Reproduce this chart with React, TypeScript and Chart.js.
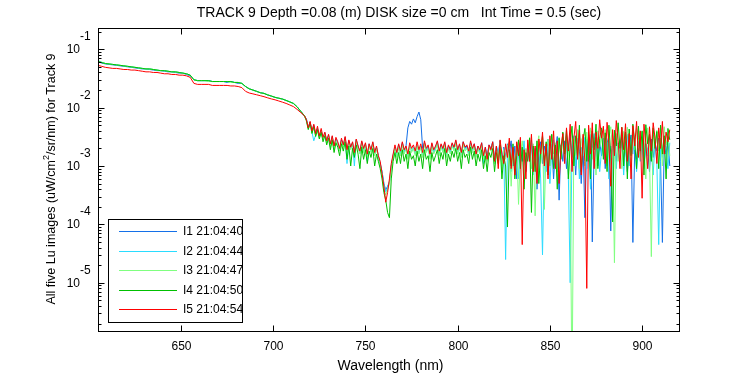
import React, { useEffect, useRef } from "react";
import { Chart, registerables } from "chart.js";

Chart.register(...registerables);

// ---------------- data ----------------
const WAVELENGTHS = [
  605, 607, 609, 611, 613, 615, 617, 619, 621, 623,
  625, 627, 629, 631, 633, 635, 637, 639, 641, 643,
  645, 647, 649, 651, 653, 655, 657, 659, 661, 663,
  665, 667, 669, 671, 673, 675, 677, 679, 681, 683,
  685, 687, 689, 691, 693, 695, 697, 699, 701, 703,
  705, 707, 709, 711, 713, 715, 717,
  718, 719, 720, 721, 722, 723, 724, 725, 726, 727,
  728, 729, 730, 731, 732, 733, 734, 735, 736, 737,
  738, 739, 740, 741, 742, 743, 744, 745, 746, 747,
  748, 749, 750, 751, 752, 753, 754, 755, 756, 757,
  758, 759, 760, 761, 762, 763, 764, 765, 766, 767,
  768, 769, 770, 771, 772, 773, 774, 775, 776, 777,
  778, 779, 780, 781, 782, 783, 784, 785, 786, 787,
  788, 789, 790, 791, 792, 793, 794, 795, 796, 797,
  798, 799, 800, 801, 802, 803, 804, 805, 806, 807,
  808, 809, 810, 811, 812, 813, 814, 815, 816, 817,
  818, 819, 820, 821, 822, 823, 824, 825, 826, 827,
  828, 829, 830, 831, 832, 833, 834, 835, 836, 837,
  838, 839, 840, 841, 842, 843, 844, 845, 846, 847,
  848, 849, 850, 851, 852, 853, 854, 855, 856, 857,
  858, 859, 860, 861, 862, 863, 864, 865, 866, 867,
  868, 869, 870, 871, 872, 873, 874, 875, 876, 877,
  878, 879, 880, 881, 882, 883, 884, 885, 886, 887,
  888, 889, 890, 891, 892, 893, 894, 895, 896, 897,
  898, 899, 900, 901, 902, 903, 904, 905, 906, 907,
  908, 909, 910, 911, 912, 913, 914, 915,
];

const I1 = [
  0.061, 0.058, 0.056, 0.055, 0.054, 0.053, 0.052, 0.051, 0.050, 0.049,
  0.048, 0.047, 0.046, 0.046, 0.045, 0.044, 0.043, 0.043, 0.042, 0.041,
  0.041, 0.040, 0.039, 0.039, 0.037, 0.035, 0.030, 0.029, 0.029, 0.029,
  0.029, 0.028, 0.028, 0.028, 0.028, 0.027, 0.028, 0.027, 0.026, 0.026,
  0.023, 0.021, 0.020, 0.019, 0.018, 0.0176, 0.0165, 0.0157, 0.015, 0.0145,
  0.0141, 0.0132, 0.0126, 0.0117, 0.0102, 0.0086, 0.0071,
  0.0064, 0.0045, 0.0057, 0.0039, 0.0050, 0.0035, 0.0044, 0.0032, 0.0041, 0.0029,
  0.0037, 0.0026, 0.0034, 0.0023, 0.0032, 0.0021, 0.0029, 0.0025, 0.0019, 0.0028,
  0.0022, 0.0031, 0.0018, 0.0027, 0.0021, 0.0025, 0.0016, 0.0028, 0.0022, 0.0017,
  0.0026, 0.0019, 0.0024, 0.0015, 0.0024, 0.0018, 0.0025, 0.0016, 0.0021, 0.0015,
  0.0011, 0.0008, 0.0005, 0.00039, 0.00045, 0.00053, 0.0010, 0.0015, 0.0021, 0.0016,
  0.0023, 0.0017, 0.0025, 0.0018, 0.0022, 0.0045, 0.0058, 0.0052, 0.0064, 0.0055,
  0.0070, 0.0084, 0.0062, 0.0020, 0.0025, 0.0018, 0.0022, 0.0015, 0.0024, 0.0017,
  0.0021, 0.0026, 0.0017, 0.0023, 0.0019, 0.0025, 0.0016, 0.0022, 0.0018, 0.0024,
  0.0020, 0.0027, 0.0018, 0.0023, 0.0016, 0.0026, 0.0020, 0.0022, 0.0017, 0.0025,
  0.0019, 0.0024, 0.0016, 0.0022, 0.0018, 0.0025, 0.0014, 0.0021, 0.0015, 0.0023,
  0.0020, 0.0026, 0.0013, 0.0022, 0.0016, 0.0027, 0.0011, 0.0021, 0.0014, 0.0024,
  0.0017, 0.0027, 0.0010, 0.0022, 0.0006, 0.0019, 0.0025, 0.0012, 0.0021, 0.0008,
  0.0023, 0.0013, 0.0028, 0.0009, 0.0020, 0.0004, 0.0017, 0.0026, 0.0011, 0.0022,
  0.0015, 0.0029, 0.0010, 0.0024, 0.0006, 0.0019, 0.0032, 0.00026, 0.0023, 0.0012,
  0.0027, 0.0009, 0.0021, 0.0034, 0.0014, 0.0025, 0.0007, 0.0030, 0.0018, 0.0005,
  0.0022, 0.00013, 0.0029, 0.0012, 0.0035, 0.00005, 0.0020, 0.0031, 0.0010, 0.0026,
  0.0015, 0.0028, 0.0009, 0.0024, 0.0033, 0.000077, 0.0019, 0.0030, 0.0012, 0.0025,
  0.0017, 0.0031, 0.0011, 0.0026, 0.0008, 0.0022, 0.0034, 0.000049, 0.0020, 0.0013,
  0.0027, 0.0016, 0.0032, 0.0010, 0.0024, 0.0019, 0.0008, 0.0029, 0.0014, 0.0025,
  0.0018, 0.0030, 0.0012, 0.000049, 0.0023, 0.0016, 0.0028, 0.0010,
];

const I2 = [
  0.064, 0.060, 0.057, 0.056, 0.055, 0.054, 0.053, 0.052, 0.051, 0.050,
  0.049, 0.048, 0.047, 0.046, 0.046, 0.045, 0.044, 0.043, 0.043, 0.042,
  0.041, 0.041, 0.040, 0.039, 0.038, 0.036, 0.030, 0.029, 0.029, 0.029,
  0.029, 0.028, 0.028, 0.028, 0.028, 0.028, 0.028, 0.027, 0.027, 0.026,
  0.023, 0.021, 0.020, 0.019, 0.018, 0.0175, 0.0165, 0.0158, 0.015, 0.0145,
  0.014, 0.0133, 0.0125, 0.0118, 0.0103, 0.0086, 0.0072,
  0.0061, 0.0047, 0.0055, 0.0038, 0.0027, 0.0034, 0.0043, 0.0031, 0.0040, 0.0028,
  0.0036, 0.0026, 0.0033, 0.0022, 0.0031, 0.0020, 0.0028, 0.0024, 0.0019, 0.0027,
  0.0022, 0.0030, 0.0011, 0.0026, 0.0020, 0.0025, 0.0010, 0.0028, 0.0021, 0.0017,
  0.0025, 0.0018, 0.0024, 0.0012, 0.0023, 0.0018, 0.0025, 0.0016, 0.0021, 0.0014,
  0.0011, 0.0008, 0.0005, 0.00036, 0.00042, 0.00055, 0.0010, 0.0015, 0.0021, 0.0015,
  0.0022, 0.0016, 0.0024, 0.0017, 0.0021, 0.0014, 0.0023, 0.0018, 0.0021, 0.0016,
  0.0023, 0.0017, 0.0022, 0.0015, 0.0025, 0.0018, 0.0021, 0.0014, 0.0023, 0.0017,
  0.0020, 0.0025, 0.0016, 0.0022, 0.0018, 0.0024, 0.0015, 0.0021, 0.0017, 0.0023,
  0.0019, 0.0026, 0.0017, 0.0022, 0.0015, 0.0025, 0.0019, 0.0021, 0.0016, 0.0024,
  0.0018, 0.0023, 0.0015, 0.0021, 0.0017, 0.0024, 0.0011, 0.0020, 0.0013, 0.0022,
  0.0019, 0.0025, 0.0012, 0.0021, 0.0015, 0.0026, 0.0010, 0.0020, 0.000025, 0.0018,
  0.0024, 0.0008, 0.0017, 0.0011, 0.0025, 0.0006, 0.0020, 0.0014, 0.0027, 0.0009,
  0.0021, 0.0012, 0.0026, 0.0007, 0.0018, 0.0010, 0.0023, 0.0006, 0.00003, 0.0015,
  0.0008, 0.0022, 0.0005, 0.0017, 0.0028, 0.0011, 0.0024, 0.0009, 0.0019, 0.0030,
  0.0013, 0.0026, 0.0007, 0.00001, 0.0018, 0.0033, 0.0010, 0.0024, 0.0006, 0.0021,
  0.0015, 0.0031, 0.0009, 0.0025, 0.0004, 0.0020, 0.0036, 0.0012, 0.0027, 0.0008,
  0.0018, 0.0030, 0.0011, 0.0026, 0.0006, 0.0022, 0.0014, 0.0033, 0.0009, 0.0024,
  0.0013, 0.0028, 0.0007, 0.0021, 0.0035, 0.0010, 0.0025, 0.0016, 0.0030, 0.0008,
  0.0020, 0.0012, 0.0027, 0.0009, 0.0023, 0.0015, 0.0031, 0.0018, 0.0007, 0.0026,
  0.0011, 0.000045, 0.0024, 0.0014, 0.0029, 0.0019, 0.0009, 0.0025,
];

const I3 = [
  0.062, 0.060, 0.057, 0.056, 0.055, 0.054, 0.053, 0.052, 0.051, 0.050,
  0.049, 0.048, 0.047, 0.046, 0.046, 0.045, 0.044, 0.043, 0.043, 0.042,
  0.041, 0.041, 0.040, 0.039, 0.038, 0.036, 0.030, 0.029, 0.029, 0.029,
  0.028, 0.028, 0.028, 0.028, 0.028, 0.028, 0.027, 0.027, 0.027, 0.026,
  0.023, 0.021, 0.020, 0.019, 0.018, 0.0175, 0.0166, 0.0158, 0.015, 0.0145,
  0.014, 0.0133, 0.0125, 0.0118, 0.0103, 0.0086, 0.0072,
  0.0058, 0.0043, 0.0053, 0.0037, 0.0046, 0.0033, 0.0041, 0.0030, 0.0039, 0.0028,
  0.0035, 0.0025, 0.0032, 0.0021, 0.0030, 0.0019, 0.0027, 0.0023, 0.0018, 0.0026,
  0.0021, 0.0029, 0.0016, 0.0025, 0.0019, 0.0024, 0.0015, 0.0027, 0.0020, 0.0016,
  0.0024, 0.0017, 0.0023, 0.0014, 0.0022, 0.0017, 0.0024, 0.0015, 0.0020, 0.0013,
  0.0010, 0.0007, 0.0004, 0.00032, 0.00039, 0.0005, 0.0009, 0.0014, 0.0020, 0.0014,
  0.0021, 0.0015, 0.0023, 0.0016, 0.0020, 0.0013, 0.0022, 0.0017, 0.0020, 0.0015,
  0.0022, 0.0016, 0.0021, 0.0014, 0.0024, 0.0017, 0.0020, 0.0013, 0.0022, 0.0016,
  0.0019, 0.0024, 0.0015, 0.0021, 0.0017, 0.0023, 0.0014, 0.0020, 0.0016, 0.0022,
  0.0018, 0.0025, 0.0016, 0.0021, 0.0014, 0.0024, 0.0018, 0.0020, 0.0015, 0.0023,
  0.0017, 0.0022, 0.0014, 0.0020, 0.0016, 0.0023, 0.0013, 0.0019, 0.0012, 0.0021,
  0.0018, 0.0024, 0.0011, 0.0020, 0.0014, 0.0025, 0.0009, 0.0019, 0.0013, 0.0022,
  0.0026, 0.00045, 0.0018, 0.0010, 0.0023, 0.00022, 0.0016, 0.0027, 0.0012, 0.0020,
  0.0015, 0.0031, 0.0009, 0.0024, 0.00014, 0.0020, 0.0033, 0.0011, 0.0026, 0.00018,
  0.0019, 0.0029, 0.0010, 0.0034, 0.0016, 0.0025, 0.0008, 0.0031, 0.0014, 0.0037,
  0.0012, 0.0035, 0.0020, 0.0008, 0.0000001, 0.0030, 0.0015, 0.0042, 0.0009, 0.0027,
  0.0033, 0.0010, 0.0038, 0.0018, 0.0045, 0.0013, 0.0029, 0.0007, 0.0040, 0.0021,
  0.0034, 0.0015, 0.0042, 0.0010, 0.0030, 0.0047, 0.0019, 0.000022, 0.0036, 0.0012,
  0.0028, 0.0009, 0.0039, 0.0017, 0.0046, 0.0024, 0.0011, 0.0035, 0.0019, 0.0044,
  0.0031, 0.0013, 0.0038, 0.0022, 0.0006, 0.0045, 0.0016, 0.000028, 0.0034, 0.0024,
  0.0041, 0.0018, 0.0030, 0.0010, 0.0047, 0.0023, 0.0036, 0.0015,
];

const I4 = [
  0.062, 0.059, 0.057, 0.056, 0.055, 0.054, 0.053, 0.052, 0.051, 0.050,
  0.049, 0.048, 0.047, 0.046, 0.046, 0.045, 0.044, 0.043, 0.043, 0.042,
  0.041, 0.041, 0.040, 0.039, 0.038, 0.036, 0.030, 0.029, 0.029, 0.029,
  0.029, 0.028, 0.028, 0.028, 0.028, 0.028, 0.028, 0.027, 0.027, 0.026,
  0.023, 0.021, 0.020, 0.019, 0.018, 0.0175, 0.0165, 0.0158, 0.015, 0.0145,
  0.014, 0.0133, 0.0125, 0.0118, 0.0103, 0.0086, 0.0072,
  0.0060, 0.0042, 0.0055, 0.0036, 0.0047, 0.0032, 0.0042, 0.0029, 0.0038, 0.0026,
  0.0033, 0.0023, 0.0030, 0.0019, 0.0028, 0.0017, 0.0025, 0.0021, 0.0015, 0.0024,
  0.0018, 0.0026, 0.0013, 0.0022, 0.0010, 0.0020, 0.0014, 0.0023, 0.0016, 0.0009,
  0.0021, 0.0013, 0.0019, 0.0011, 0.0018, 0.0014, 0.0020, 0.0010, 0.0016, 0.0012,
  0.0009, 0.0006, 0.00035, 0.00026, 0.00016, 0.00013, 0.0006, 0.0012, 0.0017, 0.0011,
  0.0017, 0.0011, 0.0019, 0.0012, 0.0016, 0.0009, 0.0018, 0.0013, 0.0015, 0.0010,
  0.0018, 0.0012, 0.0016, 0.0009, 0.0019, 0.0013, 0.0015, 0.0008, 0.0017, 0.0012,
  0.0015, 0.0019, 0.0011, 0.0017, 0.0013, 0.0020, 0.0010, 0.0016, 0.0012, 0.0018,
  0.0014, 0.0020, 0.0012, 0.0017, 0.0009, 0.0019, 0.0014, 0.0016, 0.0011, 0.0021,
  0.0013, 0.0018, 0.0010, 0.0016, 0.0012, 0.0019, 0.0009, 0.0015, 0.0008, 0.0017,
  0.0014, 0.0020, 0.0008, 0.0017, 0.0011, 0.0023, 0.0006, 0.0015, 0.0010, 0.00009,
  0.0019, 0.0010, 0.0024, 0.0006, 0.0015, 0.0028, 0.0009, 0.0021, 0.0004, 0.0017,
  0.0012, 0.0030, 0.00016, 0.0022, 0.0008, 0.0027, 0.0005, 0.0018, 0.0033, 0.0011,
  0.0026, 0.0007, 0.0019, 0.0035, 0.0009, 0.0023, 0.0004, 0.0030, 0.0013, 0.0038,
  0.0016, 0.0042, 0.0006, 0.0025, 0.0048, 0.0010, 0.0033, 0.0015, 0.0050, 0.0008,
  0.0028, 0.0044, 0.0012, 0.0034, 0.0006, 0.0040, 0.0019, 0.0052, 0.0009, 0.0030,
  0.0045, 0.0013, 0.0037, 0.0008, 0.0050, 0.0016, 0.00011, 0.0041, 0.0022, 0.0055,
  0.0020, 0.0046, 0.0010, 0.0038, 0.0006, 0.0043, 0.0015, 0.0052, 0.0026, 0.0009,
  0.0048, 0.0018, 0.0040, 0.0007, 0.0051, 0.0024, 0.0035, 0.0012, 0.0045, 0.0020,
  0.0039, 0.0009, 0.0050, 0.0016, 0.0033, 0.0006, 0.0044, 0.0028,
];

const I5 = [
  0.053, 0.051, 0.049, 0.048, 0.047, 0.047, 0.046, 0.045, 0.045, 0.044,
  0.044, 0.043, 0.042, 0.041, 0.041, 0.040, 0.040, 0.039, 0.038, 0.038,
  0.037, 0.037, 0.036, 0.036, 0.035, 0.033, 0.026, 0.025, 0.025, 0.025,
  0.025, 0.024, 0.024, 0.024, 0.024, 0.024, 0.0235, 0.0235, 0.023, 0.022,
  0.019, 0.0178, 0.0172, 0.0166, 0.016, 0.0154, 0.0147, 0.0141, 0.0136, 0.013,
  0.0124, 0.0118, 0.0111, 0.0104, 0.0093, 0.0082, 0.0072,
  0.0062, 0.0045, 0.0058, 0.0040, 0.0052, 0.0036, 0.0048, 0.0033, 0.0044, 0.0031,
  0.0038, 0.0027, 0.0035, 0.0024, 0.0033, 0.0022, 0.0031, 0.0026, 0.0020, 0.0030,
  0.0023, 0.0032, 0.0019, 0.0028, 0.0021, 0.0026, 0.0017, 0.0029, 0.0022, 0.0018,
  0.0027, 0.0020, 0.0025, 0.0016, 0.0024, 0.0019, 0.0026, 0.0017, 0.0022, 0.0015,
  0.0012, 0.00075, 0.00045, 0.00024, 0.00035, 0.0006, 0.0011, 0.0016, 0.0023, 0.0017,
  0.0024, 0.0018, 0.0026, 0.0019, 0.0022, 0.0016, 0.0025, 0.0020, 0.0023, 0.0018,
  0.0026, 0.0019, 0.0024, 0.0017, 0.0027, 0.0020, 0.0023, 0.0016, 0.0025, 0.0019,
  0.0022, 0.0027, 0.0018, 0.0024, 0.0020, 0.0026, 0.0017, 0.0023, 0.0019, 0.0025,
  0.0021, 0.0028, 0.0019, 0.0024, 0.0017, 0.0026, 0.0021, 0.0023, 0.0018, 0.0027,
  0.0020, 0.0024, 0.0016, 0.0022, 0.0019, 0.0025, 0.0015, 0.0021, 0.0013, 0.0023,
  0.0019, 0.0026, 0.0012, 0.0022, 0.0009, 0.0028, 0.0016, 0.0011, 0.0024, 0.0014,
  0.0030, 0.0009, 0.0021, 0.0007, 0.0026, 0.0015, 0.0031, 0.000045, 0.0019, 0.0006,
  0.0028, 0.0012, 0.0035, 0.0008, 0.0022, 0.0005, 0.0029, 0.0016, 0.0038, 0.0010,
  0.0024, 0.0006, 0.0033, 0.0013, 0.0040, 0.0009, 0.0027, 0.0005, 0.0021, 0.0036,
  0.0011, 0.0045, 0.0018, 0.0052, 0.0008, 0.0030, 0.0058, 0.0013, 0.0041, 0.0007,
  0.0035, 0.0012, 0.000008, 0.0050, 0.0016, 0.0055, 0.0009, 0.0038, 0.0020, 0.0062,
  0.0030, 0.0048, 0.0011, 0.0056, 0.0024, 0.00045, 0.0042, 0.0015, 0.0060, 0.0027,
  0.0009, 0.0046, 0.0019, 0.0053, 0.0012, 0.0036, 0.0006, 0.0049, 0.0022, 0.0058,
  0.0014, 0.0040, 0.00028, 0.0052, 0.0025, 0.0009, 0.0047, 0.0018, 0.0055, 0.0030,
  0.0011, 0.0045, 0.0020, 0.0058, 0.0016, 0.0038, 0.0026, 0.0042,
];

const SERIES = [I1, I2, I3, I4, I5];
const SERIES_LABELS = ["I1 21:04:40", "I2 21:04:44", "I3 21:04:47", "I4 21:04:50", "I5 21:04:54"];
const SERIES_COLORS = ["#1470e8", "#2adcff", "#80ff80", "#00c000", "#ff0000"];

const X_TICKS = [650, 700, 750, 800, 850, 900];
const Y_EXPONENTS = [-1, -2, -3, -4, -5];
const X_MIN = 605;
const X_MAX = 920;
const Y_MIN = 1.49e-6;
const Y_MAX = 0.2223;

const TITLE = "TRACK 9 Depth =0.08 (m) DISK size =0 cm   Int Time = 0.5 (sec)";
const X_TITLE = "Wavelength (nm)";
const Y_TITLE_PARTS = ["All five Lu images (uW/cm", "2", "/sr/nm) for Track 9"];

const FONT = '"Liberation Sans", Arial, Helvetica, sans-serif';

const decor = {
  id: "decor",
  beforeDraw(chart: any) {
    const ctx = chart.ctx;
    ctx.save();
    ctx.fillStyle = "#ffffff";
    ctx.fillRect(0, 0, chart.width, chart.height);
    ctx.restore();
  },
  afterDraw(chart: any) {
    const ctx: CanvasRenderingContext2D = chart.ctx;
    const ca = chart.chartArea;
    const xs = chart.scales.x;
    const ys = chart.scales.y;
    const L = Math.round(ca.left) + 0.5;
    const R = Math.round(ca.right) + 0.5;
    const T = Math.round(ca.top) - 0.5;
    const B = Math.round(ca.bottom) + 0.5;

    ctx.save();
    ctx.strokeStyle = "#000";
    ctx.fillStyle = "#000";
    ctx.lineWidth = 1;

    // frame
    ctx.strokeRect(L, T, R - L, B - T);

    // x ticks
    ctx.font = `12px ${FONT}`;
    ctx.textAlign = "center";
    ctx.textBaseline = "middle";
    for (const v of X_TICKS) {
      const px = Math.round(xs.getPixelForValue(v)) + 0.5;
      ctx.beginPath();
      ctx.moveTo(px, B);
      ctx.lineTo(px, B - 6);
      ctx.moveTo(px, T);
      ctx.lineTo(px, T + 6);
      ctx.stroke();
      ctx.fillText(String(v), px, 347);
    }

    // y minor ticks
    for (let e = -7; e <= 0; e++) {
      for (let k = 2; k <= 9; k++) {
        const v = k * Math.pow(10, e);
        if (v < Y_MIN || v > Y_MAX) continue;
        const py = Math.round(ys.getPixelForValue(v)) + 0.5;
        ctx.beginPath();
        ctx.moveTo(L, py);
        ctx.lineTo(L + 3, py);
        ctx.moveTo(R, py);
        ctx.lineTo(R - 3, py);
        ctx.stroke();
      }
    }

    // y major ticks + labels
    for (const e of Y_EXPONENTS) {
      const v = Math.pow(10, e);
      const py = Math.round(ys.getPixelForValue(v)) + 0.5;
      ctx.beginPath();
      ctx.moveTo(L, py);
      ctx.lineTo(L + 6, py);
      ctx.moveTo(R, py);
      ctx.lineTo(R - 6, py);
      ctx.stroke();
      ctx.font = `12px ${FONT}`;
      ctx.textAlign = "right";
      ctx.textBaseline = "middle";
      ctx.fillText("10", 80, py);
      ctx.textAlign = "left";
      ctx.fillText(String(e), 80, py - 13);
    }

    // title
    ctx.font = `14px ${FONT}`;
    ctx.textAlign = "center";
    ctx.textBaseline = "middle";
    ctx.fillText(TITLE, 399, 13);

    // x title
    ctx.fillText(X_TITLE, (ca.left + ca.right) / 2 + 2, 366);

    // y title (with superscript 2)
    ctx.save();
    ctx.translate(52, 179);
    ctx.rotate(-Math.PI / 2);
    ctx.textAlign = "left";
    ctx.textBaseline = "middle";
    ctx.font = `12.5px ${FONT}`;
    const wa = ctx.measureText(Y_TITLE_PARTS[0]).width;
    const wc = ctx.measureText(Y_TITLE_PARTS[2]).width;
    ctx.font = `9px ${FONT}`;
    const wb = ctx.measureText(Y_TITLE_PARTS[1]).width;
    let sx = -(wa + wb + wc) / 2;
    ctx.font = `12.5px ${FONT}`;
    ctx.fillText(Y_TITLE_PARTS[0], sx, 0);
    sx += wa;
    ctx.font = `9px ${FONT}`;
    ctx.fillText(Y_TITLE_PARTS[1], sx, -5);
    sx += wb;
    ctx.font = `12.5px ${FONT}`;
    ctx.fillText(Y_TITLE_PARTS[2], sx, 0);
    ctx.restore();

    // legend
    const lx = 108.5;
    const ly = 219.5;
    const lw = 134;
    const lh = 103;
    ctx.fillStyle = "#fff";
    ctx.fillRect(lx, ly, lw, lh);
    ctx.strokeStyle = "#000";
    ctx.strokeRect(lx, ly, lw, lh);
    ctx.font = `12px ${FONT}`;
    ctx.textAlign = "left";
    ctx.textBaseline = "middle";
    chart.data.datasets.forEach((ds: any, i: number) => {
      const yy = Math.round(231 + i * 19.5) + 0.5;
      ctx.strokeStyle = ds.borderColor;
      ctx.beginPath();
      ctx.moveTo(119, yy);
      ctx.lineTo(177, yy);
      ctx.stroke();
      ctx.fillStyle = "#000";
      ctx.fillText(ds.label, 183, yy);
    });

    ctx.restore();
  },
};

export default function App() {
  const ref = useRef<HTMLCanvasElement>(null);
  useEffect(() => {
    const canvas = ref.current;
    if (!canvas) return;
    const n = SERIES.length;
    const datasets = SERIES.map((vals, i) => ({
      label: SERIES_LABELS[i],
      data: WAVELENGTHS.map((w, j) => ({ x: w, y: vals[j] })),
      borderColor: SERIES_COLORS[i],
      backgroundColor: SERIES_COLORS[i],
      borderWidth: 1,
      pointRadius: 0,
      tension: 0,
      fill: false,
      // later series are drawn on top (like MATLAB's plot order)
      order: n - 1 - i,
    }));
    const chart = new Chart(canvas, {
      type: "line",
      data: { datasets },
      options: {
        responsive: false,
        animation: false,
        devicePixelRatio: 1,
        events: [],
        layout: { padding: { left: 98, right: 71, top: 29, bottom: 44 } },
        plugins: {
          legend: { display: false },
          title: { display: false },
          tooltip: { enabled: false },
        },
        scales: {
          x: { type: "linear", min: X_MIN, max: X_MAX, display: false },
          y: { type: "logarithmic", min: Y_MIN, max: Y_MAX, display: false },
        },
      },
      plugins: [decor],
    } as any);
    return () => chart.destroy();
  }, []);
  return (
    <canvas
      ref={ref}
      width={750}
      height={375}
      style={{ position: "absolute", left: 0, top: 0, width: 750, height: 375 }}
    />
  );
}
